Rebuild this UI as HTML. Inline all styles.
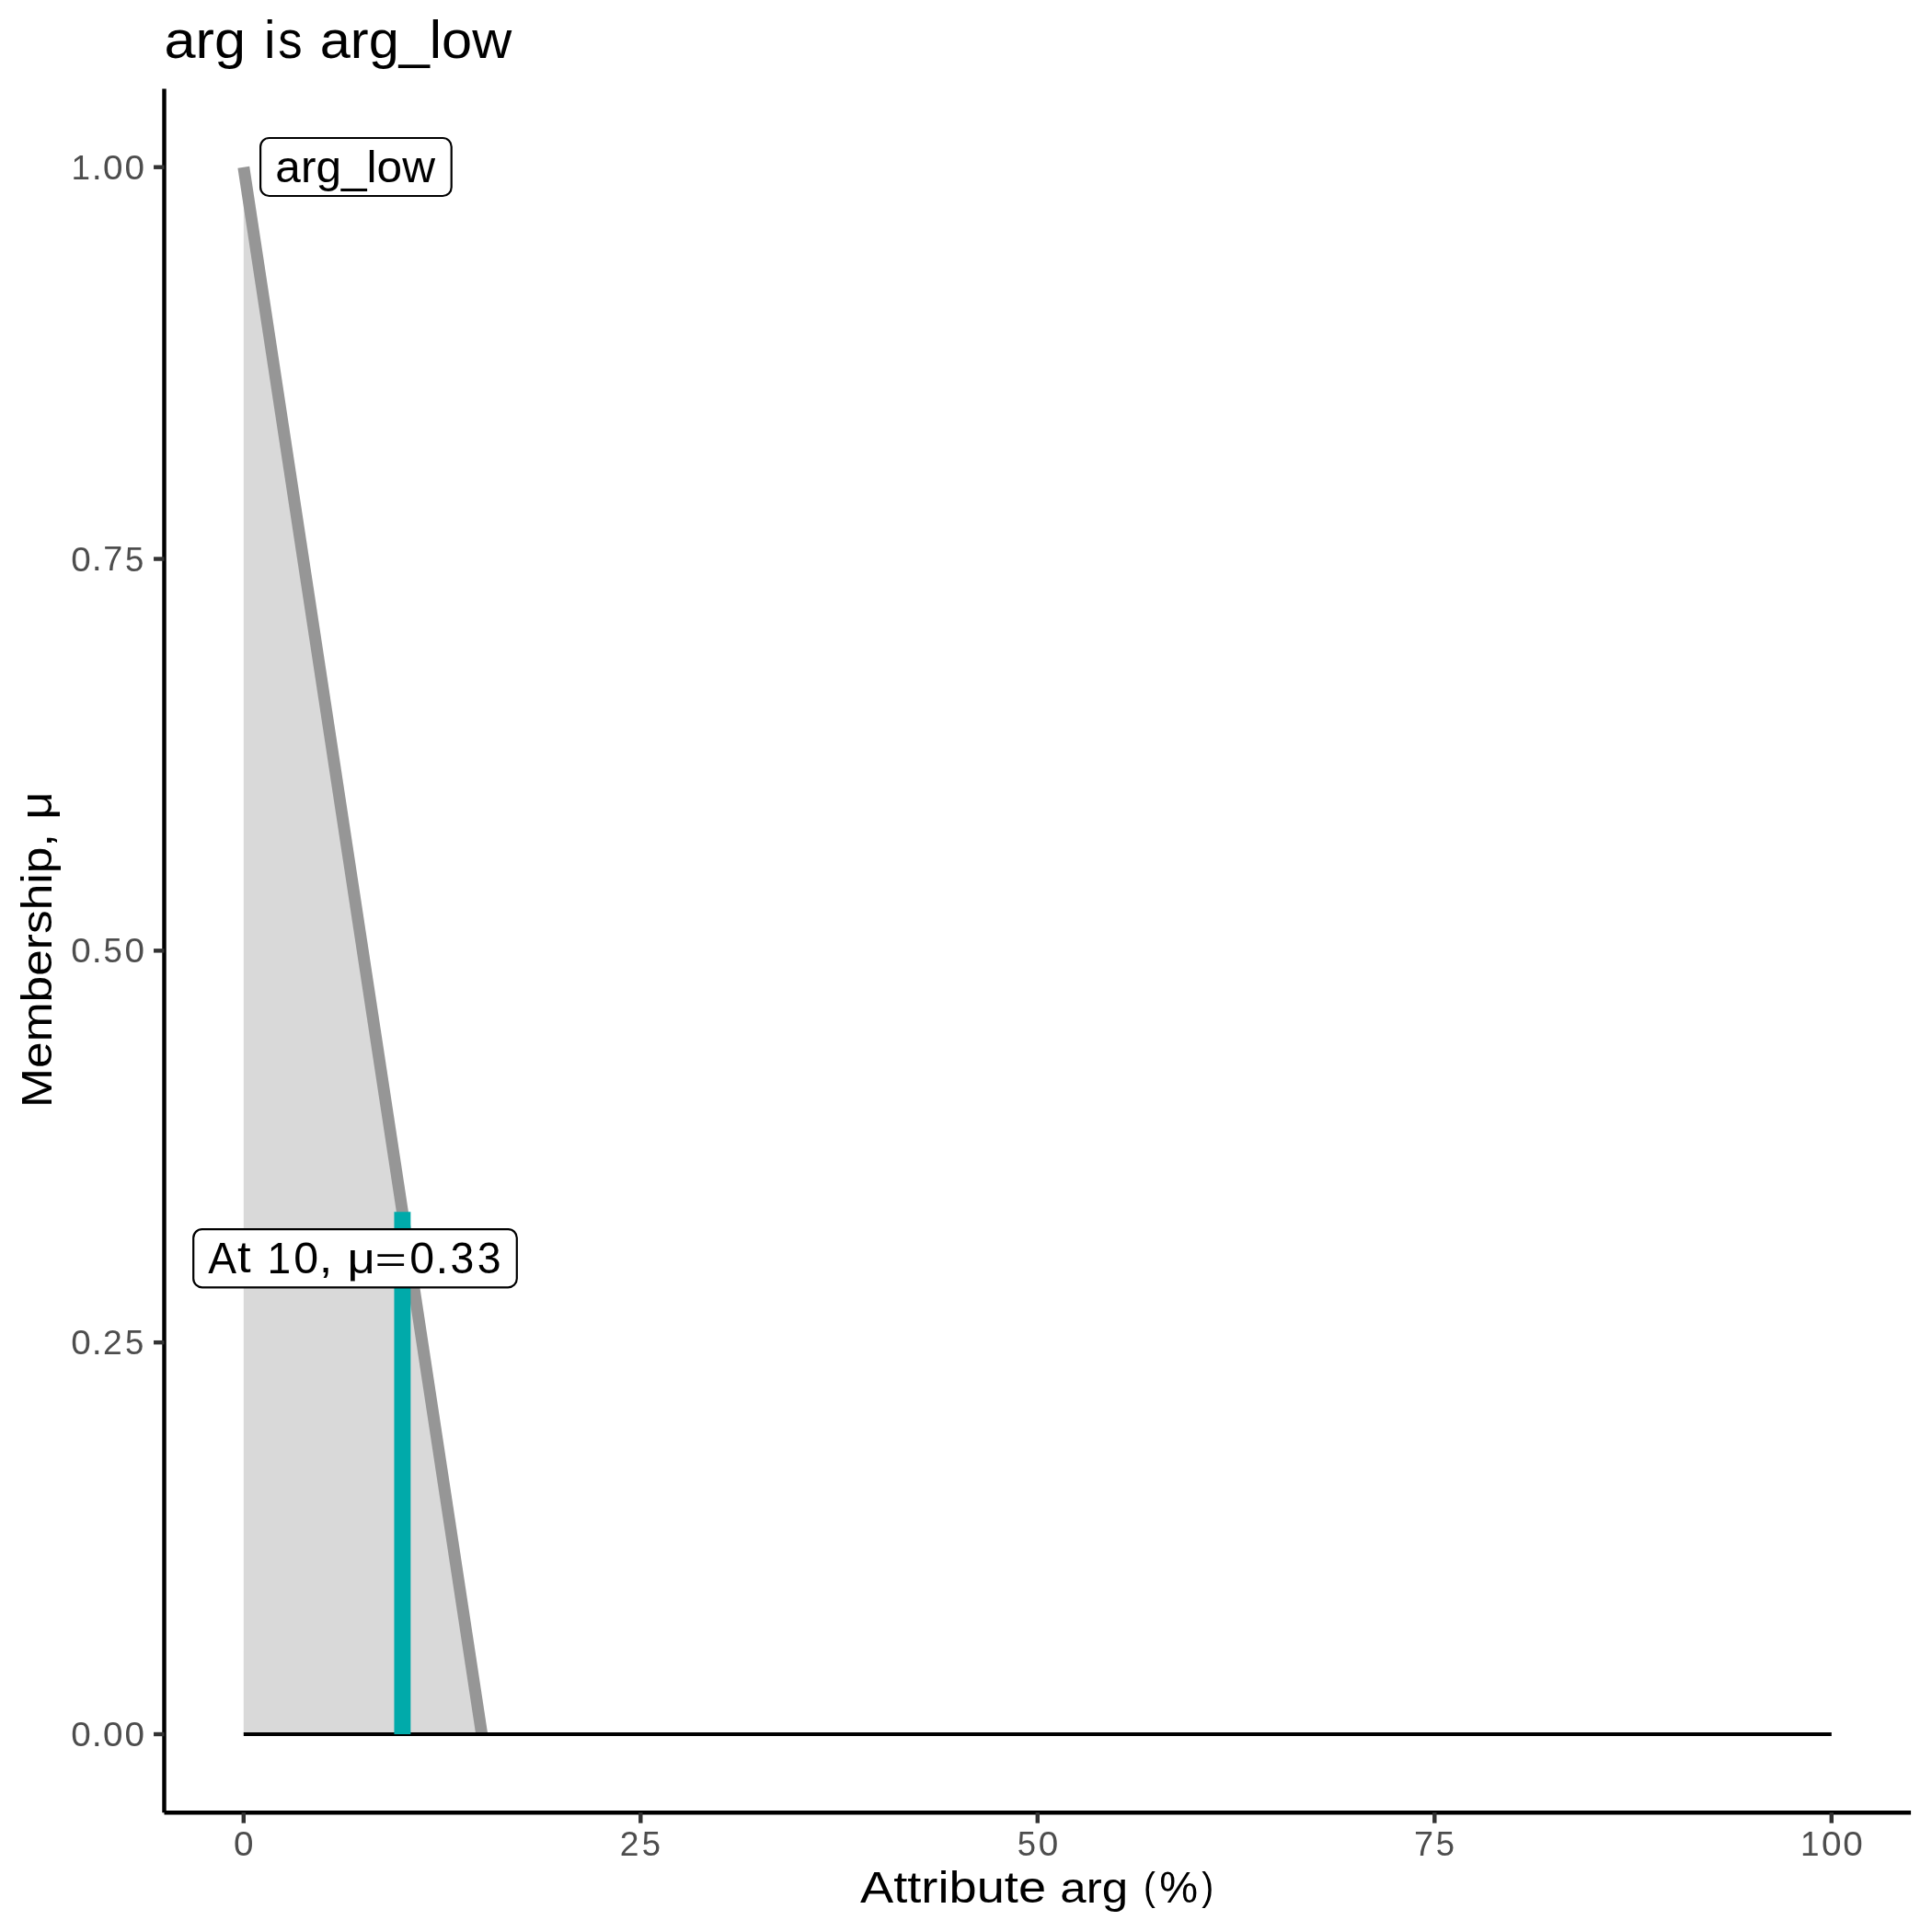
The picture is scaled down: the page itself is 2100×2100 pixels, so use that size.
<!DOCTYPE html>
<html><head><meta charset="utf-8"><style>
html,body{margin:0;padding:0;background:#fff;}
svg{display:block;will-change:transform;}
text{font-family:"Liberation Sans",sans-serif;font-size:100px;}
</style></head><body>
<svg width="2100" height="2100" viewBox="0 0 2100 2100">
<rect width="2100" height="2100" fill="#fff"/>
<polygon points="264.80,1885.00 264.80,181.70 523.70,1885.00" fill="#D9D9D9"/>
<line x1="264.80" y1="181.70" x2="523.70" y2="1885.00" stroke="#969696" stroke-width="12.9"/>
<line x1="264.80" y1="1885.00" x2="1990.80" y2="1885.00" stroke="#000" stroke-width="4.2"/>
<line x1="437.40" y1="1885.00" x2="437.40" y2="1317.23" stroke="#00AAAA" stroke-width="17.9"/>
<rect x="283.10" y="150.00" width="207.60" height="63.00" rx="9.5" ry="9.5" fill="#fff" stroke="#000" stroke-width="2.2"/><g fill="#000"><text transform="matrix(0.49590 0.00000 -0.00000 0.48028 299.353 197.800)">arg_low</text></g>
<rect x="210.20" y="1336.10" width="351.60" height="63.20" rx="9.5" ry="9.5" fill="#fff" stroke="#000" stroke-width="2.2"/><g fill="#000"><text transform="matrix(0.46167 0.00000 -0.00000 0.47530 226.199 1383.800)">A</text><text transform="matrix(0.52704 0.00000 -0.00000 0.48136 258.001 1383.424)">t</text><text transform="matrix(0.46141 0.00000 -0.00000 0.47530 290.534 1383.800)">1</text><text transform="matrix(0.48311 0.00000 -0.00000 0.47918 319.306 1383.967)">0</text><text transform="matrix(0.52704 0.00000 -0.00000 0.45882 346.824 1383.143)">,</text><text transform="matrix(0.52704 0.00000 -0.00000 0.47015 377.405 1384.108)">μ</text><text transform="matrix(0.59049 0.00000 -0.00000 0.39283 407.598 1382.689)">=</text><text transform="matrix(0.48311 0.00000 -0.00000 0.47918 445.160 1383.967)">0</text><text transform="matrix(0.49590 0.00000 -0.00000 0.52024 473.557 1383.800)">.</text><text transform="matrix(0.46396 0.00000 -0.00000 0.47918 489.476 1383.967)">3</text><text transform="matrix(0.46396 0.00000 -0.00000 0.47918 518.635 1383.967)">3</text></g>
<line x1="178.50" y1="96.50" x2="178.50" y2="1970.20" stroke="#000" stroke-width="4.44"/>
<line x1="178.50" y1="1970.20" x2="2077.10" y2="1970.20" stroke="#000" stroke-width="4.44"/>
<line x1="167.04" y1="1885.00" x2="178.50" y2="1885.00" stroke="#333333" stroke-width="4.44"/>
<g fill="#4D4D4D"><text transform="matrix(0.38655 0.00000 -0.00000 0.36582 77.129 1898.078)">0</text><text transform="matrix(0.39679 0.00000 -0.00000 0.39716 99.851 1897.950)">.</text><text transform="matrix(0.38655 0.00000 -0.00000 0.36582 112.116 1898.078)">0</text><text transform="matrix(0.38655 0.00000 -0.00000 0.36582 135.447 1898.078)">0</text></g>
<line x1="167.04" y1="1459.17" x2="178.50" y2="1459.17" stroke="#333333" stroke-width="4.44"/>
<g fill="#4D4D4D"><text transform="matrix(0.38655 0.00000 -0.00000 0.36582 77.129 1472.253)">0</text><text transform="matrix(0.39679 0.00000 -0.00000 0.39716 99.851 1472.125)">.</text><text transform="matrix(0.37260 0.00000 -0.00000 0.36399 112.021 1472.125)">2</text><text transform="matrix(0.36481 0.00000 -0.00000 0.36472 135.908 1472.254)">5</text></g>
<line x1="167.04" y1="1033.35" x2="178.50" y2="1033.35" stroke="#333333" stroke-width="4.44"/>
<g fill="#4D4D4D"><text transform="matrix(0.38655 0.00000 -0.00000 0.36582 77.129 1046.428)">0</text><text transform="matrix(0.39679 0.00000 -0.00000 0.39716 99.851 1046.300)">.</text><text transform="matrix(0.36481 0.00000 -0.00000 0.36472 112.577 1046.429)">5</text><text transform="matrix(0.38655 0.00000 -0.00000 0.36582 135.447 1046.428)">0</text></g>
<line x1="167.04" y1="607.53" x2="178.50" y2="607.53" stroke="#333333" stroke-width="4.44"/>
<g fill="#4D4D4D"><text transform="matrix(0.38655 0.00000 -0.00000 0.36582 77.129 620.603)">0</text><text transform="matrix(0.39679 0.00000 -0.00000 0.39716 99.851 620.475)">.</text><text transform="matrix(0.37812 0.00000 -0.00000 0.36285 112.278 620.475)">7</text><text transform="matrix(0.36481 0.00000 -0.00000 0.36472 135.908 620.604)">5</text></g>
<line x1="167.04" y1="181.70" x2="178.50" y2="181.70" stroke="#333333" stroke-width="4.44"/>
<g fill="#4D4D4D"><text transform="matrix(0.36919 0.00000 -0.00000 0.36285 77.438 194.650)">1</text><text transform="matrix(0.39679 0.00000 -0.00000 0.39716 99.851 194.650)">.</text><text transform="matrix(0.38655 0.00000 -0.00000 0.36582 112.116 194.778)">0</text><text transform="matrix(0.38655 0.00000 -0.00000 0.36582 135.447 194.778)">0</text></g>
<line x1="264.80" y1="1970.20" x2="264.80" y2="1981.66" stroke="#333333" stroke-width="4.44"/>
<g fill="#4D4D4D"><text transform="matrix(0.38655 0.00000 -0.00000 0.36582 254.042 2017.228)">0</text></g>
<line x1="696.30" y1="1970.20" x2="696.30" y2="1981.66" stroke="#333333" stroke-width="4.44"/>
<g fill="#4D4D4D"><text transform="matrix(0.37260 0.00000 -0.00000 0.36399 673.781 2017.100)">2</text><text transform="matrix(0.36481 0.00000 -0.00000 0.36472 697.668 2017.229)">5</text></g>
<line x1="1127.80" y1="1970.20" x2="1127.80" y2="1981.66" stroke="#333333" stroke-width="4.44"/>
<g fill="#4D4D4D"><text transform="matrix(0.36481 0.00000 -0.00000 0.36472 1105.838 2017.229)">5</text><text transform="matrix(0.38655 0.00000 -0.00000 0.36582 1128.707 2017.228)">0</text></g>
<line x1="1559.30" y1="1970.20" x2="1559.30" y2="1981.66" stroke="#333333" stroke-width="4.44"/>
<g fill="#4D4D4D"><text transform="matrix(0.37812 0.00000 -0.00000 0.36285 1537.039 2017.100)">7</text><text transform="matrix(0.36481 0.00000 -0.00000 0.36472 1560.668 2017.229)">5</text></g>
<line x1="1990.80" y1="1970.20" x2="1990.80" y2="1981.66" stroke="#333333" stroke-width="4.44"/>
<g fill="#4D4D4D"><text transform="matrix(0.36919 0.00000 -0.00000 0.36285 1957.021 2017.100)">1</text><text transform="matrix(0.38655 0.00000 -0.00000 0.36582 1980.042 2017.228)">0</text><text transform="matrix(0.38655 0.00000 -0.00000 0.36582 2003.373 2017.228)">0</text></g>
<g fill="#000"><text transform="matrix(0.61281 0.00000 -0.00000 0.57600 178.496 62.900)">arg</text><text transform="matrix(0.56222 0.00000 -0.00000 0.57962 286.963 62.900)">i</text><text transform="matrix(0.52721 0.00000 -0.00000 0.58096 302.335 63.115)">s</text><text transform="matrix(0.59512 0.00000 -0.00000 0.57931 347.733 62.900)">arg_low</text></g>
<g fill="#000"><text transform="matrix(0.54267 0.00000 -0.00000 0.47150 935.013 2067.800)">Attribute</text><text transform="matrix(0.51064 0.00000 -0.00000 0.46881 1152.304 2067.800)">arg</text><text transform="matrix(0.38740 0.00000 -0.00000 0.43012 1243.038 2064.827)">(</text><text transform="matrix(0.47061 0.00000 -0.00000 0.48635 1260.233 2068.152)">%</text><text transform="matrix(0.38740 0.00000 -0.00000 0.43012 1306.373 2064.827)">)</text></g>
<g fill="#000"><text transform="matrix(0.00000 -0.51512 0.47150 -0.00000 55.800 1203.879)">Membership,</text><text transform="matrix(0.00000 -0.52704 0.47159 -0.00000 56.109 890.794)">μ</text></g>
</svg>
</body></html>
